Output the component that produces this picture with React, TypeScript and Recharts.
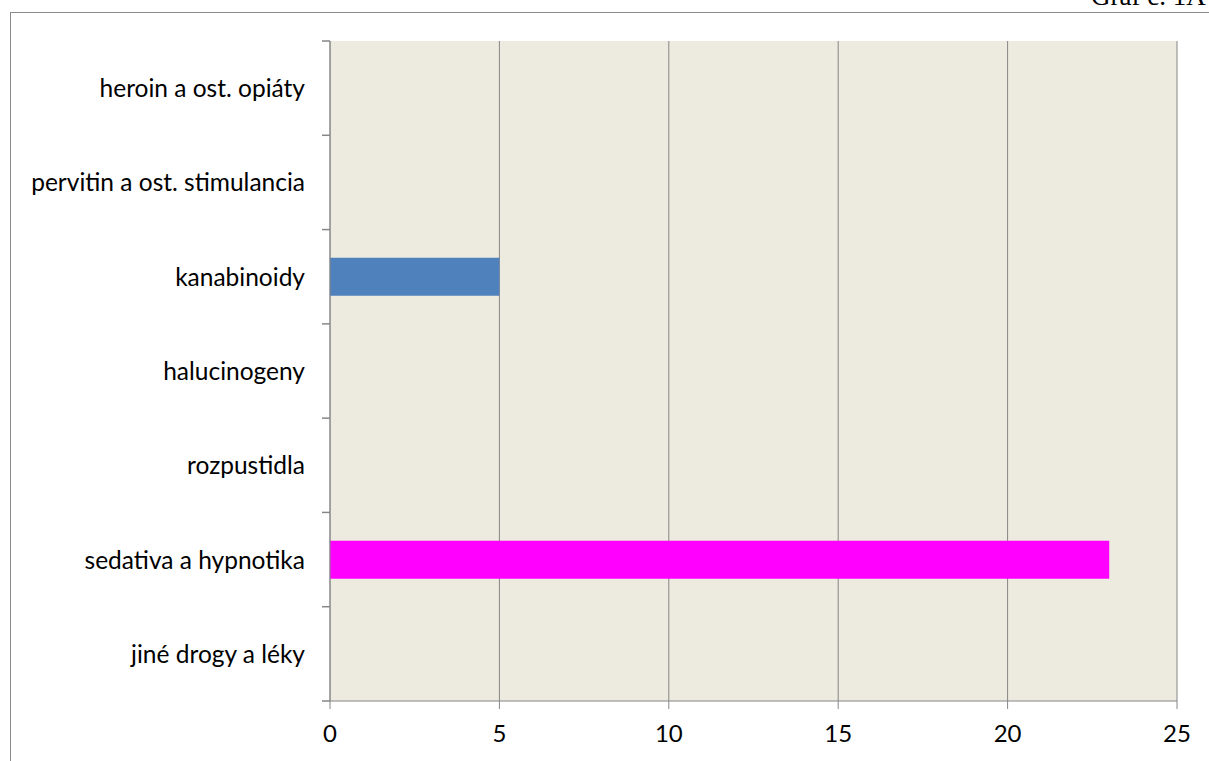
import { BarChart, Bar, XAxis, YAxis, CartesianGrid, Cell } from 'recharts';

const categories = [
  'heroin a ost. opiáty',
  'pervitin a ost. stimulancia',
  'kanabinoidy',
  'halucinogeny',
  'rozpustidla',
  'sedativa a hypnotika',
  'jiné drogy a léky',
];
const values = [0, 0, 5, 0, 0, 23, 0];
const barColors = ['#4F81BD', '#4F81BD', '#4F81BD', '#4F81BD', '#4F81BD', '#FF00FF', '#4F81BD'];
const xTicks = [0, 5, 10, 15, 20, 25];

const data = categories.map((name, i) => ({ name, value: values[i] }));

const W = 1209;
const H = 761;
const margin = { top: 41, right: 32, bottom: 30, left: 0 };
const yAxisWidth = 330;
const band = (H - margin.top - margin.bottom - 30) / categories.length;
const axisColor = '#868686';
const labelFont = 'Lato, "Open Sans", sans-serif';

// category tick: label at the band centre, short tick line at the band edges
function CategoryTick(props: any) {
  const { x, y, payload, index } = props;
  const lineX = x + 25;
  return (
    <g>
      <line x1={lineX - 8} x2={lineX} y1={y - band / 2} y2={y - band / 2} stroke={axisColor} strokeWidth={1.5} />
      {index === categories.length - 1 && (
        <line x1={lineX - 8} x2={lineX} y1={y + band / 2} y2={y + band / 2} stroke={axisColor} strokeWidth={1.5} />
      )}
      <text x={x} y={y} dy={9} textAnchor="end" fill="#000" fontSize={24.5} fontFamily={labelFont}>
        {payload.value}
      </text>
    </g>
  );
}

export default function App() {
  return (
    <div style={{ position: 'fixed', left: 0, top: 0, width: W, height: H, overflow: 'hidden', background: '#fff' }}>
      <div
        style={{
          position: 'absolute',
          left: 10,
          top: 12,
          width: 1400,
          height: 1000,
          border: '1.5px solid #8a8a8a',
        }}
      />
      <div
        style={{
          position: 'absolute',
          left: 1091,
          top: -19,
          fontFamily: '"Liberation Serif", "DejaVu Serif", serif',
          fontSize: 27,
          whiteSpace: 'nowrap',
        }}
      >
        Graf č. 1A
      </div>
      <div style={{ position: 'absolute', left: 0, top: 0 }}>
        <BarChart width={W} height={H} data={data} layout="vertical" margin={margin} barCategoryGap="30%">
          <CartesianGrid horizontal={false} stroke={axisColor} fill="#EDEAE0" />
          <XAxis
            type="number"
            domain={[0, 25]}
            ticks={xTicks}
            interval={0}
            stroke={axisColor}
            tickSize={8}
            tickMargin={16}
            tick={{ fill: '#000', fontSize: 24, fontFamily: labelFont }}
          />
          <YAxis
            type="category"
            dataKey="name"
            width={yAxisWidth}
            stroke={axisColor}
            tickLine={false}
            tickSize={8}
            tickMargin={17}
            interval={0}
            tick={<CategoryTick />}
          />
          <Bar dataKey="value" isAnimationActive={false}>
            {data.map((d, i) => (
              <Cell key={d.name} fill={barColors[i]} />
            ))}
          </Bar>
        </BarChart>
      </div>
    </div>
  );
}
